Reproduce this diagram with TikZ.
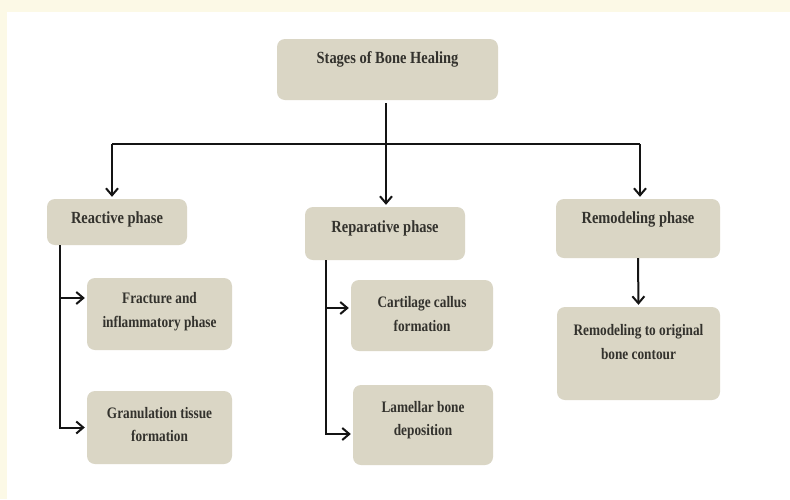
\documentclass[tikz,border=0pt]{standalone}
\usepackage{fontspec}
\setmainfont{Liberation Serif}
\newfontfamily\condfont[FakeStretch=0.85]{Liberation Serif}
\newfontfamily\condsubfont[FakeStretch=0.83]{Liberation Serif}
\usetikzlibrary{arrows.meta}
\definecolor{cream}{HTML}{FCF9E6}
\definecolor{boxfill}{HTML}{DAD6C5}
\definecolor{txt}{HTML}{33322D}
\definecolor{ln}{HTML}{141414}
\tikzset{
  box/.style={rectangle, rounded corners=8pt, fill=boxfill, draw=none, inner sep=0pt},
  head/.style={font=\condfont\bfseries\fontsize{17}{20}\selectfont, text=txt, inner sep=0pt},
  sub/.style={font=\condsubfont\bfseries\fontsize{16}{23.5}\selectfont, text=txt, align=center, inner sep=0pt},
  conn/.style={draw=ln, line width=2pt},
  arr/.style={conn, -{Straight Barb[length=7pt,width=12pt,line width=2pt]}, shorten >=2pt},
}
\begin{document}
\begin{tikzpicture}[x=1pt,y=-1pt]
\useasboundingbox (0,0) rectangle (790,499);
\fill[cream] (0,0) rectangle (790,499);
\fill[white] (7,12) rectangle (790,499);

% boxes
\node[box, minimum width=221pt, minimum height=61pt] (root) at (387.5,69.5) {};
\node[box, minimum width=140pt, minimum height=46pt] (reactive) at (117,222) {};
\node[box, minimum width=160pt, minimum height=53pt] (reparative) at (385,233.5) {};
\node[box, minimum width=164pt, minimum height=59pt] (remodeling) at (638,228.5) {};
\node[box, minimum width=145pt, minimum height=72pt] (fracture) at (159.5,314) {};
\node[box, minimum width=145pt, minimum height=73pt] (granulation) at (159.5,427.5) {};
\node[box, minimum width=142pt, minimum height=71pt] (cartilage) at (422,315.5) {};
\node[box, minimum width=140pt, minimum height=80pt] (lamellar) at (423,425) {};
\node[box, minimum width=163pt, minimum height=93pt] (remodel2) at (638.5,353.5) {};

% texts
\node[head] (rootT) at (387.5,59) {Stages of Bone Healing};
\node[head] (reactiveT) at (117,219) {Reactive phase};
\node[head] (reparativeT) at (385,228) {Reparative phase};
\node[head] (remodelingT) at (638,219) {Remodeling phase};
\node[sub] (fractureT) at (159.5,311.5) {Fracture and\\inflammatory phase};
\node[sub] (granulationT) at (159.5,424.5) {Granulation tissue\\formation};
\node[sub] (cartilageT) at (422,314) {Cartilage callus\\formation};
\node[sub] (lamellarT) at (423,420) {Lamellar bone\\deposition};
\node[sub] (remodel2T) at (638.5,342) {Remodeling to original\\bone contour};

% connectors from root
\coordinate (j) at (386,144);
\coordinate (jl) at (112,144);
\coordinate (jr) at (640,144);
\draw[conn] ([yshift=-3pt]root.south -| j) -- (j);
\draw[conn] (jl) -- (jr);
\draw[arr] (jl) -- (jl |- reactive.north);
\draw[arr] (j) -- (j |- reparative.north);
\draw[arr] (jr) -- (jr |- remodeling.north);

% reactive branch
\coordinate (rx) at (60,0);
\coordinate (f1) at (0,298);
\draw[conn] (reactive.south -| rx) -- (rx |- f1);
\draw[arr] (reactive.south -| rx) |- (granulation.west);
\draw[arr] (rx |- f1) -- (fracture.west |- f1);

% reparative branch
\coordinate (px) at (326,0);
\coordinate (c1) at (0,308);
\coordinate (l1) at (0,434);
\draw[conn] (reparative.south -| px) -- (px |- c1);
\draw[arr] (reparative.south -| px) |- (lamellar.west |- l1);
\draw[arr] (px |- c1) -- (cartilage.west |- c1);

% remodeling branch
\draw[arr] (remodeling.south) -- (remodel2.north);
\end{tikzpicture}
\end{document}
